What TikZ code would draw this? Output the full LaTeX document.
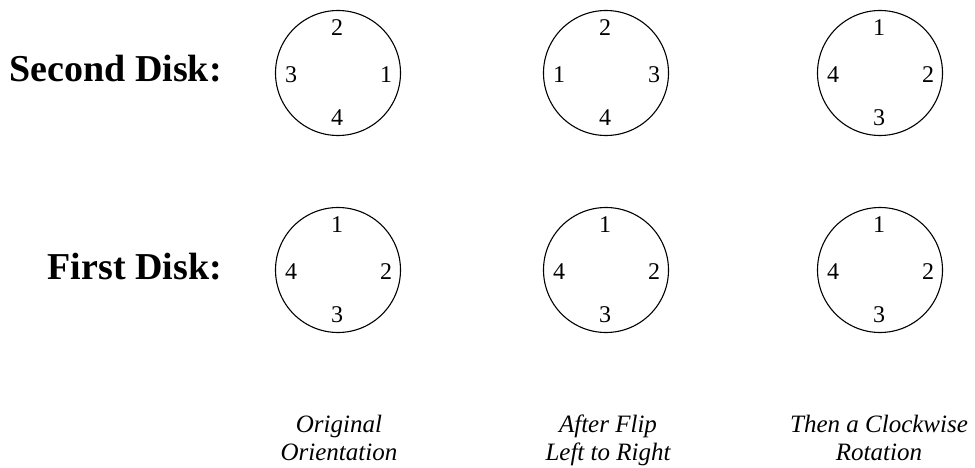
\documentclass[tikz,border=0pt]{standalone}
\usepackage{fontspec}
\setmainfont{Liberation Serif}
\usetikzlibrary{calc}
\begin{document}
\begin{tikzpicture}[x=1pt,y=-1pt,
  disk/.style={draw,circle,line width=1.1pt,minimum size=125pt,inner sep=0pt},
  num/.style={inner sep=0pt,font=\fontsize{24}{27}\selectfont},
  rowlabel/.style={anchor=base east,inner sep=0pt,font=\fontsize{38}{44}\selectfont\bfseries},
  caption/.style={anchor=base,inner sep=0pt,font=\fontsize{25}{28}\selectfont\itshape}]
\useasboundingbox (0,0) rectangle (975,468);
% row labels
\node[rowlabel] (second) at (222,82) {Second Disk:};
\node[rowlabel] (first) at (222,279) {First Disk:};
% disks: name, centre, top, right, bottom, left
\foreach \n/\x/\y/\t/\r/\b/\l in {
  a/338/73/2/1/4/3, b/606/73/2/3/4/1, c/880/73/1/2/3/4,
  d/338/270/1/2/3/4, e/606/270/1/2/3/4, f/880/270/1/2/3/4}{
  \node[disk] (\n) at (\x,\y) {};
  \node[num] (\n t) at ($(\n.center)+(-1,-45)$) {\t};
  \node[num] (\n r) at ($(\n.center)+(48,2)$) {\r};
  \node[num] (\n b) at ($(\n.center)+(-1,45)$) {\b};
  \node[num] (\n l) at ($(\n.center)+(-47,2)$) {\l};
}
% captions
\node[caption] (cap1a) at (339,432) {Original};
\node[caption] (cap1b) at (339,460) {Orientation};
\node[caption] (cap2a) at (608,432) {After Flip};
\node[caption] (cap2b) at (608,460) {Left to Right};
\node[caption] (cap3a) at (879,432) {Then a Clockwise};
\node[caption] (cap3b) at (879,460) {Rotation};
\end{tikzpicture}
\end{document}
